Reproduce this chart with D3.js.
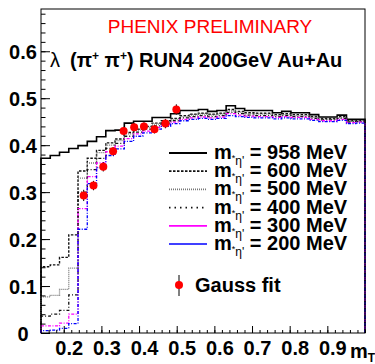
<!DOCTYPE html>
<html>
<head>
<meta charset="utf-8">
<script src="https://cdn.jsdelivr.net/npm/d3@7"></script>
<style>
  html, body { margin: 0; padding: 0; background: #fff; }
  svg { display: block; }
  text { font-family: "Liberation Sans", Arial, Helvetica, sans-serif; }
</style>
</head>
<body>
<svg id="chart" width="375" height="364"></svg>
<script>
// Histogram range in m_T (GeV): starts at the pion mass, 35 equal bins
const mtMin = 0.1396;
const mtMax = 1.0;
const nBins = 35;

// lambda(m_T) model curves for several in-medium eta' masses
const lam958 = [0.372,0.378,0.385,0.393,0.399,0.408,0.418,0.431,0.432,0.447,0.451,0.451,0.459,0.459,0.467,0.474,0.474,0.476,0.472,0.474,0.484,0.478,0.474,0.474,0.474,0.469,0.472,0.469,0.469,0.465,0.460,0.460,0.464,0.455,0.455];
const lam600 = [0.141,0.145,0.161,0.209,0.345,0.372,0.389,0.405,0.413,0.427,0.434,0.440,0.447,0.452,0.457,0.463,0.466,0.468,0.466,0.468,0.476,0.472,0.469,0.468,0.468,0.465,0.467,0.465,0.465,0.461,0.457,0.457,0.461,0.452,0.452];
const lam500 = [0.077,0.080,0.093,0.138,0.330,0.362,0.384,0.400,0.410,0.424,0.432,0.438,0.445,0.450,0.455,0.461,0.464,0.466,0.464,0.466,0.473,0.470,0.467,0.466,0.466,0.463,0.465,0.463,0.463,0.459,0.455,0.455,0.459,0.451,0.451];
const lam400 = [0.036,0.040,0.048,0.081,0.300,0.348,0.372,0.393,0.404,0.419,0.428,0.434,0.441,0.447,0.452,0.458,0.461,0.463,0.461,0.463,0.470,0.467,0.464,0.463,0.463,0.461,0.463,0.461,0.461,0.457,0.454,0.454,0.457,0.449,0.450];
const lam300 = [0.015,0.015,0.021,0.040,0.265,0.333,0.362,0.386,0.398,0.414,0.424,0.430,0.438,0.444,0.449,0.455,0.458,0.460,0.458,0.460,0.467,0.464,0.462,0.461,0.461,0.459,0.461,0.459,0.459,0.455,0.452,0.452,0.455,0.448,0.449];
const lam200 = [0.005,0.006,0.010,0.020,0.221,0.318,0.352,0.378,0.392,0.408,0.419,0.426,0.434,0.440,0.446,0.452,0.455,0.457,0.455,0.457,0.463,0.461,0.459,0.458,0.458,0.456,0.458,0.456,0.456,0.453,0.450,0.450,0.453,0.446,0.447];

// Gauss fit results
const fitMt  = [0.253,0.279,0.305,0.331,0.359,0.387,0.413,0.441,0.470,0.499];
const fitLam = [0.293,0.314,0.354,0.387,0.430,0.438,0.440,0.434,0.446,0.476];
const fitErr = [0.012,0.010,0.010,0.009,0.009,0.009,0.009,0.009,0.010,0.011];

// Axis ticks
const xTickValues = [0.2,0.3,0.4,0.5,0.6,0.7,0.8,0.9];
const xTickLabels = ["0.2","0.3","0.4","0.5","0.6","0.7","0.8","0.9"];
const yTickValues = [0,0.1,0.2,0.3,0.4,0.5,0.6];
const yTickLabels = ["0","0.1","0.2","0.3","0.4","0.5","0.6"];

const massLabels = ["958","600","500","400","300","200"];

(function draw() {
  const svg = d3.select("#chart");
  const padL = 41, padR = 365, padT = 9, padB = 333;

  const x = d3.scaleLinear().domain([mtMin, mtMax]).range([padL, padR]);
  const y = d3.scaleLinear().domain([0, 0.69]).range([padB, padT]);

  const binEdges = d3.range(nBins + 1).map(i => mtMin + i * (mtMax - mtMin) / nBins);

  const series = [
    { vals: lam958, color: "#000", width: 1.6, dash: null,        legDash: null },
    { vals: lam600, color: "#111", width: 1.4, dash: "2.5,1.5",   legDash: "2.5,1.5" },
    { vals: lam500, color: "#777", width: 1.3, dash: "1,1",       legDash: "1,1" },
    { vals: lam400, color: "#111", width: 1.3, dash: "3,2,1,2",   legDash: "1.5,4" },
    { vals: lam300, color: "#ff00ff", width: 1.3, dash: "3,1.5,1,1.5", legDash: null },
    { vals: lam200, color: "#0000ff", width: 1.3, dash: "3,1.5,1,1.5", legDash: null }
  ];

  // Histogram outline: rise from zero at the first edge, step through bins, drop to zero at the end
  function histPoints(vals) {
    const p = [[binEdges[0], 0]];
    vals.forEach((v, i) => { p.push([binEdges[i], v]); p.push([binEdges[i + 1], v]); });
    p.push([binEdges[nBins], 0]);
    return p;
  }
  const line = d3.line().x(d => x(d[0])).y(d => y(d[1]));

  const plot = svg.append("g");
  series.forEach(s => {
    plot.append("path")
      .attr("d", line(histPoints(s.vals)))
      .attr("fill", "none")
      .attr("stroke", s.color)
      .attr("stroke-width", s.width)
      .attr("stroke-dasharray", s.dash);
  });

  // Frame
  svg.append("rect")
    .attr("x", padL).attr("y", padT)
    .attr("width", padR - padL).attr("height", padB - padT)
    .attr("fill", "none").attr("stroke", "#000").attr("stroke-width", 1);

  // X axis: major and minor ticks
  const xMinor = d3.range(0.16, 1.0001, 0.02).filter(v => v >= mtMin);
  const xAxisG = svg.append("g").attr("transform", `translate(0,${padB})`);
  xAxisG.call(d3.axisBottom(x).tickValues(xMinor).tickSize(-3).tickFormat(""));
  xAxisG.append("g").call(d3.axisBottom(x).tickValues(xTickValues).tickSize(-7).tickFormat((d, i) => xTickLabels[i]));
  xAxisG.selectAll(".domain").remove();
  xAxisG.selectAll("line").attr("stroke", "#000");
  xAxisG.selectAll("text")
    .attr("y", 22).attr("dx", 5).attr("dy", 0)
    .attr("fill", "#000")
    .style("font-size", "20px").style("font-weight", "bold");

  // Y axis
  const yMinor = d3.range(0, 0.6901, 0.02);
  const yAxisG = svg.append("g").attr("transform", `translate(${padL},0)`);
  yAxisG.call(d3.axisLeft(y).tickValues(yMinor).tickSize(-4.5).tickFormat(""));
  yAxisG.append("g").call(d3.axisLeft(y).tickValues(yTickValues).tickSize(-9).tickFormat((d, i) => yTickLabels[i]));
  yAxisG.selectAll(".domain").remove();
  yAxisG.selectAll("line").attr("stroke", "#000");
  yAxisG.selectAll("text")
    .attr("x", -18).attr("dy", "0.36em")
    .attr("text-anchor", "middle")
    .attr("fill", "#000")
    .style("font-size", "20px").style("font-weight", "bold");

  // Axis title m_T
  const mt = svg.append("text").attr("x", 350).attr("y", 358)
    .style("font-size", "20px").style("font-weight", "bold");
  mt.append("tspan").text("m");
  mt.append("tspan").attr("dy", 4).style("font-size", "12px").text("T");

  // Gauss fit points with error bars
  const pts = svg.append("g");
  fitMt.forEach((m, i) => {
    pts.append("line")
      .attr("x1", x(m)).attr("x2", x(m))
      .attr("y1", y(fitLam[i] - fitErr[i])).attr("y2", y(fitLam[i] + fitErr[i]))
      .attr("stroke", "#000").attr("stroke-width", 1);
    pts.append("circle")
      .attr("cx", x(m)).attr("cy", y(fitLam[i])).attr("r", 4)
      .attr("fill", "#ff0000");
  });

  // Titles
  svg.append("text").attr("x", 210).attr("y", 33)
    .attr("text-anchor", "middle")
    .attr("fill", "#ff0000")
    .style("font-size", "19px")
    .text("PHENIX PRELIMINARY");

  svg.append("text").attr("x", 50).attr("y", 67)
    .style("font-size", "20px")
    .text("λ");
  const t2 = svg.append("text").attr("x", 70).attr("y", 67)
    .style("font-size", "20px").style("font-weight", "bold");
  t2.append("tspan").text("(π");
  t2.append("tspan").attr("dy", -7).style("font-size", "12px").text("+");
  t2.append("tspan").attr("dy", 7).text(" π");
  t2.append("tspan").attr("dy", -7).style("font-size", "12px").text("+");
  t2.append("tspan").attr("dy", 7).text(") RUN4 200GeV Au+Au");

  // Legend
  const leg = svg.append("g");
  const legY0 = 153, legStep = 18.2;
  series.forEach((s, i) => {
    const ly = legY0 + i * legStep;
    leg.append("line")
      .attr("x1", 169).attr("x2", 207).attr("y1", ly).attr("y2", ly)
      .attr("stroke", s.color).attr("stroke-width", s.width + 0.4)
      .attr("stroke-dasharray", s.legDash);
    const t = leg.append("text").attr("x", 214).attr("y", ly + 6)
      .style("font-size", "20px").style("font-weight", "bold");
    t.append("tspan").text("m");
    t.append("tspan").attr("dy", 2).style("font-size", "9px").style("font-weight", "normal").text("*");
    t.append("tspan").attr("dy", 4).style("font-size", "12px").style("font-weight", "normal").text("η'");
    t.append("tspan").attr("dy", -6).text(" = " + massLabels[i] + " MeV");
  });
  leg.append("line")
    .attr("x1", 179).attr("x2", 179).attr("y1", 275).attr("y2", 296)
    .attr("stroke", "#000").attr("stroke-width", 1);
  leg.append("circle").attr("cx", 179).attr("cy", 285).attr("r", 4).attr("fill", "#ff0000");
  leg.append("text").attr("x", 195).attr("y", 292)
    .style("font-size", "20px").style("font-weight", "bold")
    .text("Gauss fit");
})();
</script>
</body>
</html>
